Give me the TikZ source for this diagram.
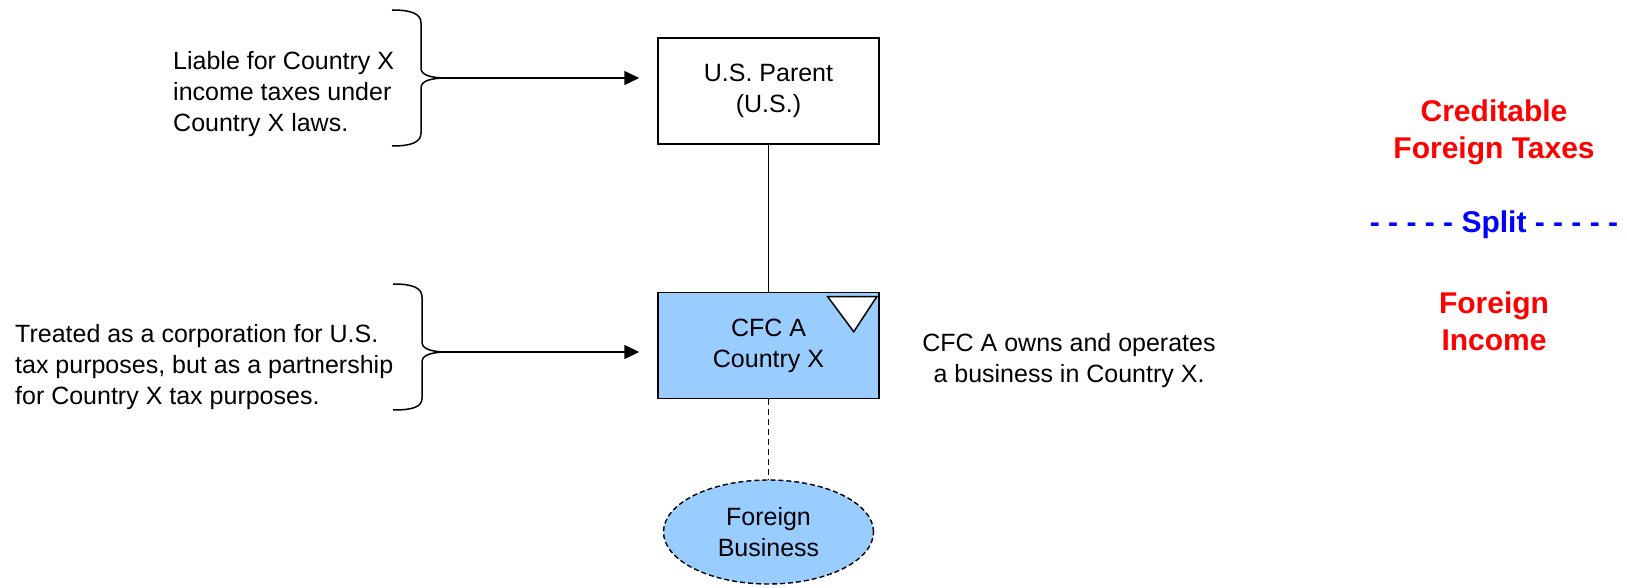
\documentclass[tikz,border=0pt]{standalone}
\usepackage{fontspec}
\setmainfont{Liberation Sans}
\usetikzlibrary{shapes}
\usetikzlibrary{positioning}
\usetikzlibrary{arrows.meta}
\definecolor{cfcblue}{RGB}{153,204,255}
\tikzset{
    entity/.style = {rectangle, draw=black, line width=1.5pt, minimum width=221pt, minimum height=106pt, align=center, font=\fontsize{25}{31}\selectfont},
    entityb/.style = {entity, fill=cfcblue},
    branch/.style = {ellipse, draw=black, line width=1.4pt, dash pattern=on 5pt off 3pt, fill=cfcblue, minimum width=210pt, minimum height=104pt, inner sep=0pt, align=center, font=\fontsize{25}{31}\selectfont},
    note/.style = {align=left, inner sep=0pt, font=\fontsize{25}{31}\selectfont},
    notec/.style = {align=center, inner sep=0pt, font=\fontsize{25}{31}\selectfont},
    tagr/.style = {align=center, inner sep=0pt, text=red, font=\fontsize{30}{37}\selectfont\bfseries},
    tagb/.style = {tagr, text=blue},
    edgen/.style = {-{Triangle[length=15pt,width=14pt]}, line width=1.5pt, shorten >=18pt},
    edgel/.style = {line width=1.5pt},
    edged/.style = {line width=1.5pt, dash pattern=on 6pt off 4pt},
    bracel/.style = {line width=1.5pt},
}
\begin{document}
\begin{tikzpicture}[x=1pt,y=1pt]
\useasboundingbox (0,0) rectangle (1627,587);
%
\node[entity] at (768.5, 496) (parent) {U.S. Parent\\(U.S.)};
\node[entityb] at (768.5, 241.5) (cfc) {CFC A\\Country X};
\node[branch] at (768.5, 55) (biz) {Foreign\\Business};
%
\node[note, anchor=west] at (173, 493) (liable) {Liable for Country X\\income taxes under\\Country X laws.};
\node[note, anchor=west] at (15, 220) (treated) {Treated as a corporation for U.S.\\tax purposes, but as a partnership\\for Country X tax purposes.};
\node[notec] at (1069, 226) (operates) {CFC A owns and operates\\a business in Country X.};
%
\node[tagr] at (1494, 455) (credit) {Creditable\\Foreign Taxes};
\node[tagb] at (1494, 362) (split) {- - - - - Split - - - - -};
\node[tagr] at (1494, 266) (income) {Foreign\\Income};
%
\coordinate (b1) at (447, 509);
\coordinate (b2) at (448, 235);
%
% braces
\draw[bracel] (392,577) .. controls (412,577) and (421,573) .. (421,564) -- (421,519)
    .. controls (421,512) and (430,509) .. (b1)
    .. controls (430,509) and (421,506) .. (421,499) -- (421,454)
    .. controls (421,445) and (412,441) .. (392,441);
\draw[bracel] (393,303) .. controls (413,303) and (422,299) .. (422,290) -- (422,245)
    .. controls (422,238) and (431,235) .. (b2)
    .. controls (431,235) and (422,232) .. (422,225) -- (422,189)
    .. controls (422,180) and (413,177) .. (393,177);
%
\draw[edgen] (b1) -- (b1 -| parent.west);
\draw[edgen] (b2) -- (b2 -| cfc.west);
\draw[edgel] (parent.south) -- (cfc.north);
\draw[edged] (cfc.south) -- (biz.north);
%
\draw[edgel, fill=white] ([shift={(-52,-5)}]cfc.north east) -- ([shift={(-3,-5)}]cfc.north east) -- ([shift={(-26,-40)}]cfc.north east) -- cycle;

\end{tikzpicture}
\end{document}
